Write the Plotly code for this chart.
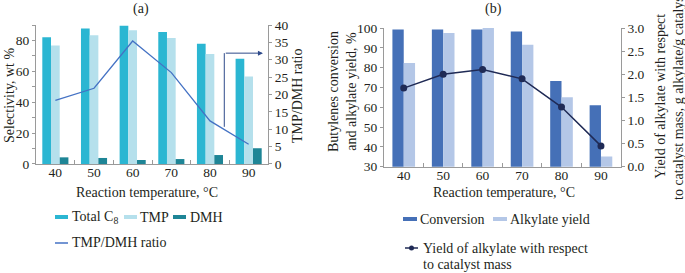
import plotly.graph_objects as go

# ---- data ----
temps = ["40", "50", "60", "70", "80", "90"]
total_c8 = [82, 87.7, 89.6, 85.5, 77.9, 68.2]
tmp = [76.8, 83.3, 86.6, 81.6, 71.2, 56.7]
dmh = [4.3, 3.9, 2.6, 3.2, 5.8, 10.2]
tmp_dmh_ratio = [18.3, 21.8, 35.4, 26.3, 12.4, 5.7]

conversion = [99.2, 99.2, 99.2, 98.3, 73.2, 61.0]
alkylate_yield = [82.3, 97.5, 100, 91.5, 65.1, 35.1]
yield_per_cat = [1.70, 2.00, 2.10, 1.90, 1.29, 0.45]

FONT = "Liberation Serif"
TXT = "#231F20"
AX = "#9A9A9A"

C_C8 = "#2BB6D2"
C_TMP = "#B5E0EC"
C_DMH = "#1E8596"
C_RATIO = "#4472C4"
C_CONV = "#4570B7"
C_YLD = "#B4C7E7"
C_LINE = "#1F2A55"

fig = go.Figure()

wa = 0.225
fig.add_trace(go.Bar(x=temps, y=total_c8, name="Total C<sub>8</sub>", marker_color=C_C8,
                     width=wa, offset=-0.3375, xaxis="x", yaxis="y"))
fig.add_trace(go.Bar(x=temps, y=tmp, name="TMP", marker_color=C_TMP,
                     width=wa, offset=-0.1125, xaxis="x", yaxis="y"))
fig.add_trace(go.Bar(x=temps, y=dmh, name="DMH", marker_color=C_DMH,
                     width=wa, offset=0.1125, xaxis="x", yaxis="y"))
fig.add_trace(go.Scatter(x=temps, y=tmp_dmh_ratio, name="TMP/DMH ratio", mode="lines",
                         line=dict(color=C_RATIO, width=1.3), xaxis="x", yaxis="y2"))

wb = 0.287
fig.add_trace(go.Bar(x=temps, y=conversion, name="Conversion", marker_color=C_CONV,
                     width=wb, offset=-wb, xaxis="x2", yaxis="y3"))
fig.add_trace(go.Bar(x=temps, y=alkylate_yield, name="Alkylate yield", marker_color=C_YLD,
                     width=wb, offset=0, xaxis="x2", yaxis="y3"))
fig.add_trace(go.Scatter(x=temps, y=yield_per_cat, name="Yield of alkylate with respect to catalyst mass",
                         mode="lines+markers", line=dict(color=C_LINE, width=1.5),
                         marker=dict(color=C_LINE, size=7), xaxis="x2", yaxis="y4"))

tickfont = dict(family=FONT, size=13.5, color=TXT)
common_x = dict(type="category", showline=True, linecolor=AX, linewidth=1, ticks="inside",
                tickson="boundaries", ticklen=4, tickcolor=AX, tickfont=tickfont,
                ticklabelstandoff=-4,
                showgrid=False, zeroline=False, automargin=False)
common_y = dict(showline=True, linecolor=AX, linewidth=1, ticks="outside", ticklen=3,
                tickcolor=AX, tickfont=tickfont, showgrid=False, zeroline=False, automargin=False)

fig.update_layout(
    template="none",
    width=685, height=273,
    margin=dict(l=0, r=0, t=0, b=0, pad=0, autoexpand=False),
    paper_bgcolor="white", plot_bgcolor="white",
    barmode="overlay", showlegend=False,
    font=dict(family=FONT, size=14, color=TXT),
    xaxis=dict(domain=[0.0526, 0.3912], anchor="y", range=[-0.5, 5.5], **common_x),
    yaxis=dict(domain=[0.3993, 0.9084], anchor="x", range=[0, 90], dtick=20,
               minor=dict(dtick=10, ticks="outside", ticklen=3, tickcolor=AX), **common_y),
    yaxis2=dict(overlaying="y", anchor="x", side="right", range=[0, 40], dtick=5, **common_y),
    xaxis2=dict(domain=[0.5606, 0.9061], anchor="y3", range=[-0.5, 5.5], **common_x),
    yaxis3=dict(domain=[0.3894, 0.8974], anchor="x2", range=[30, 100], dtick=10, **common_y),
    yaxis4=dict(overlaying="y3", anchor="x2", side="right", range=[0, 3], dtick=0.5,
                tickformat=".1f", **common_y),
)

W, H = 685, 273
def px(x, y):
    return x / W, 1 - y / H

anns = []
def text(x, y, s, angle=0, xanchor="center"):
    fx, fy = px(x, y)
    anns.append(dict(x=fx, y=fy, xref="paper", yref="paper", text=s, showarrow=False,
                     textangle=angle, xanchor=xanchor, yanchor="middle",
                     font=dict(family=FONT, size=14, color=TXT)))

# panel titles
text(141, 9, "(a)")
text(493, 9, "(b)")
# axis titles
text(147, 192, "Reaction temperature, °C")
text(504, 192, "Reaction temperature, °C")
text(9, 96, "Selectivity, wt %", angle=-90)
text(297, 96, "TMP/DMH ratio", angle=-90)
text(342, 92, "Butylenes conversion<br>and alkylate yield, %", angle=-90)
text(669, 96, "Yield of alkylate with respect<br>to catalyst mass, g alkylate/g catalyst", angle=-90)

# legends (drawn manually)
shapes = []
def rect(x0, x1, yc, color, h=4):
    f0x, f0y = px(x0, yc + h / 2)
    f1x, f1y = px(x1, yc - h / 2)
    shapes.append(dict(type="rect", xref="paper", yref="paper", x0=f0x, x1=f1x, y0=f0y, y1=f1y,
                       fillcolor=color, line=dict(width=0)))
def hline(x0, x1, yc, color, w=1.5):
    f0x, fy = px(x0, yc)
    f1x, _ = px(x1, yc)
    shapes.append(dict(type="line", xref="paper", yref="paper", x0=f0x, x1=f1x, y0=fy, y1=fy,
                       line=dict(color=color, width=w)))

rect(55, 68, 217, C_C8); text(70, 217, "Total C<sub>8</sub>", xanchor="left")
rect(124, 137, 217, C_TMP); text(138, 217, "TMP", xanchor="left")
rect(173, 186, 217, C_DMH); text(188, 217, "DMH", xanchor="left")
hline(55, 68, 243, C_RATIO); text(70, 243, "TMP/DMH ratio", xanchor="left")

rect(403, 417, 219, C_CONV); text(418, 219, "Conversion", xanchor="left")
rect(493, 507, 219, C_YLD); text(508, 219, "Alkylate yield", xanchor="left")
hline(405, 418, 248, C_LINE)
fx, fy = px(411.5, 248)
shapes.append(dict(type="circle", xref="paper", yref="paper",
                   x0=fx - 2.5 / W, x1=fx + 2.5 / W, y0=fy - 2.5 / H, y1=fy + 2.5 / H,
                   fillcolor=C_LINE, line=dict(width=0)))
text(421, 248, "Yield of alkylate with respect", xanchor="left")
text(421, 264, "to catalyst mass", xanchor="left")

# pointer arrow in panel (a), towards right axis
shapes.append(dict(type="line", xref="x", yref="y2", x0=4.37, x1=4.37, y0=10.7, y1=31.9,
                   line=dict(color="#2E4A8A", width=1)))
anns.append(dict(x=5.37, y=31.9, xref="x", yref="y2", ax=4.37, ay=31.9, axref="x", ayref="y2",
                 showarrow=True, arrowhead=2, arrowsize=1, arrowwidth=1, arrowcolor="#2E4A8A",
                 text=""))

fig.update_layout(annotations=anns, shapes=shapes)
fig.write_html("out.html", config={"displayModeBar": False, "staticPlot": True},
               post_script="document.body.style.margin='0';document.body.style.overflow='hidden';")
